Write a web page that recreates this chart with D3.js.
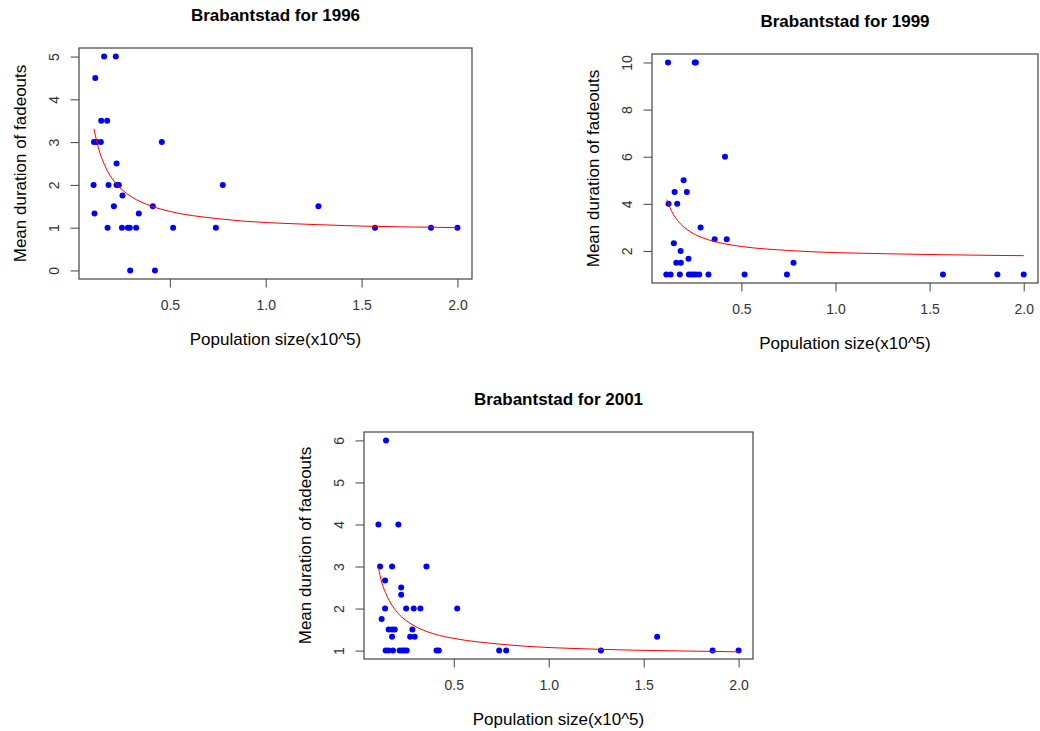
<!DOCTYPE html>
<html lang="en">

<head>
    <meta charset="UTF-8">
    <title>Brabantstad fadeouts</title>
    <script src="https://cdn.jsdelivr.net/npm/d3@7"></script>
    <style>
        * {
            margin: 0;
            padding: 0;
        }

        body {
            background: #fff;
        }

        text {
            font-family: "Liberation Sans", Arial, sans-serif;
        }
    </style>
</head>

<body>
    <script>
        // population size (x10^5) and mean duration of fadeouts, per year
        const pop1996 = [0.157, 0.218, 0.111, 0.142, 0.173, 0.104, 0.119, 0.140, 0.458, 0.222, 0.102, 0.180, 0.222, 0.234, 0.776, 0.253, 0.208, 0.411, 0.107, 0.338, 0.175, 0.250, 0.281, 0.291, 0.324, 0.517, 0.740, 0.293, 0.422, 1.275, 1.570, 1.862, 2.000];
        const dur1996 = [5, 5, 4.5, 3.5, 3.5, 3, 3, 3, 3, 2.5, 2, 2, 2, 2, 2, 1.75, 1.5, 1.5, 1.33, 1.33, 1, 1, 1, 1, 1, 1, 1, 0, 0, 1.5, 1, 1, 1];

        const pop1999 = [0.110, 0.252, 0.258, 0.413, 0.193, 0.145, 0.210, 0.113, 0.159, 0.283, 0.358, 0.422, 0.141, 0.177, 0.219, 0.154, 0.178, 0.777, 0.101, 0.124, 0.173, 0.221, 0.233, 0.247, 0.258, 0.276, 0.325, 0.517, 0.742, 1.571, 1.860, 2.000];
        const dur1999 = [10, 10, 10, 6, 5, 4.5, 4.5, 4, 4, 3, 2.5, 2.5, 2.33, 2, 1.67, 1.5, 1.5, 1.5, 1, 1, 1, 1, 1, 1, 1, 1, 1, 1, 1, 1, 1, 1];

        const pop2001 = [0.143, 0.103, 0.208, 0.112, 0.175, 0.356, 0.138, 0.223, 0.223, 0.138, 0.249, 0.289, 0.324, 0.518, 0.120, 0.157, 0.175, 0.189, 0.282, 0.175, 0.270, 0.294, 0.141, 0.156, 0.180, 0.215, 0.228, 0.240, 0.252, 0.409, 0.421, 0.739, 0.776, 1.275, 1.571, 1.863, 2.000];
        const dur2001 = [6, 4, 4, 3, 3, 3, 2.67, 2.5, 2.33, 2, 2, 2, 2, 2, 1.75, 1.5, 1.5, 1.5, 1.5, 1.33, 1.33, 1.33, 1, 1, 1, 1, 1, 1, 1, 1, 1, 1, 1, 1, 1.33, 1, 1];

        // fitted curve
        const fitPop = [0.104, 0.12, 0.14, 0.16, 0.18, 0.2, 0.25, 0.3, 0.4, 0.5, 0.75, 1.275, 1.57, 1.86, 2.0];
        const fit1996 = [3.31, 2.99, 2.68, 2.46, 2.28, 2.14, 1.89, 1.72, 1.51, 1.38, 1.21, 1.07, 1.03, 1.01, 1.00];
        const fit1999 = [4.18, 3.85, 3.53, 3.30, 3.12, 2.98, 2.71, 2.54, 2.32, 2.19, 2.02, 1.88, 1.84, 1.81, 1.80];
        const fit2001 = [2.96, 2.63, 2.38, 2.19, 2.04, 1.92, 1.71, 1.57, 1.39, 1.29, 1.15, 1.03, 1.00, 0.98, 0.97];

        const xTicks = [0.5, 1.0, 1.5, 2.0];
        const yTicks1996 = [0, 1, 2, 3, 4, 5];
        const yTicks1999 = [2, 4, 6, 8, 10];
        const yTicks2001 = [1, 2, 3, 4, 5, 6];

        const xTitle = "Population size(x10^5)";
        const yTitle = "Mean duration of fadeouts";

        const width = 1040;
        const height = 731;
        const svg = d3.select("body").append("svg").attr("width", width).attr("height", height);

        // R style: 4% padding around the data range
        const pad = (ext) => {
            const d = (ext[1] - ext[0]) * 0.04;
            return [ext[0] - d, ext[1] + d];
        };

        const drawPanel = (box, year, xs, ys, yTicks, fit) => {
            const x = d3.scaleLinear().domain(pad(d3.extent(xs))).range([box.left, box.right]);
            const y = d3.scaleLinear().domain(pad(d3.extent(ys))).range([box.bottom, box.top]);
            const g = svg.append("g");

            // x axis
            const ax = g.append("g")
                .attr("transform", `translate(0,${box.bottom})`)
                .call(d3.axisBottom(x).tickValues(xTicks).tickFormat(d3.format(".1f")).tickSize(8.5).tickSizeOuter(0));
            ax.select(".domain").remove();
            ax.selectAll(".tick line").attr("stroke", "#444");
            ax.selectAll(".tick text")
                .attr("y", 31).attr("dy", null)
                .attr("font-size", 14).attr("fill", "#333")
                .style("font-family", "'Liberation Sans', Arial, sans-serif");

            // y axis, labels turned like R
            const ay = g.append("g")
                .attr("transform", `translate(${box.left},0)`)
                .call(d3.axisLeft(y).tickValues(yTicks).tickFormat(d3.format("d")).tickSize(8.5).tickSizeOuter(0));
            ay.select(".domain").remove();
            ay.selectAll(".tick line").attr("stroke", "#444");
            ay.selectAll(".tick text")
                .attr("x", null).attr("dy", null)
                .attr("transform", "translate(-20,0) rotate(-90)")
                .attr("text-anchor", "middle")
                .attr("font-size", 14).attr("fill", "#333")
                .style("font-family", "'Liberation Sans', Arial, sans-serif");

            // box
            g.append("rect")
                .attr("x", box.left).attr("y", box.top)
                .attr("width", box.right - box.left).attr("height", box.bottom - box.top)
                .attr("fill", "none").attr("stroke", "#444").attr("stroke-width", 1.2);

            // points
            g.append("g")
                .selectAll("circle")
                .data(d3.range(xs.length))
                .join("circle")
                .attr("cx", (i) => x(xs[i]))
                .attr("cy", (i) => y(ys[i]))
                .attr("r", 3)
                .attr("fill", "#0000ff");

            // fitted curve
            const line = d3.line()
                .x((i) => x(fitPop[i]))
                .y((i) => y(fit[i]))
                .curve(d3.curveMonotoneX);
            g.append("path")
                .attr("d", line(d3.range(fitPop.length)))
                .attr("fill", "none")
                .attr("stroke", "#ff0000")
                .attr("stroke-width", 1);

            const cx = (box.left + box.right) / 2;
            const cy = (box.top + box.bottom) / 2;

            g.append("text")
                .attr("x", cx).attr("y", box.top - 27)
                .attr("text-anchor", "middle")
                .attr("font-size", 17).attr("font-weight", "bold")
                .text(`Brabantstad for ${year}`);

            g.append("text")
                .attr("x", cx).attr("y", box.bottom + 65.5)
                .attr("text-anchor", "middle")
                .attr("font-size", 17)
                .text(xTitle);

            g.append("text")
                .attr("transform", `translate(${box.left - 53},${cy}) rotate(-90)`)
                .attr("text-anchor", "middle")
                .attr("font-size", 17)
                .text(yTitle);
        };

        drawPanel({ left: 79, right: 472, top: 48, bottom: 279 }, 1996, pop1996, dur1996, yTicks1996, fit1996);
        drawPanel({ left: 652, right: 1038, top: 54, bottom: 283 }, 1999, pop1999, dur1999, yTicks1999, fit1999);
        drawPanel({ left: 364, right: 753, top: 432, bottom: 659 }, 2001, pop2001, dur2001, yTicks2001, fit2001);
    </script>
</body>

</html>
